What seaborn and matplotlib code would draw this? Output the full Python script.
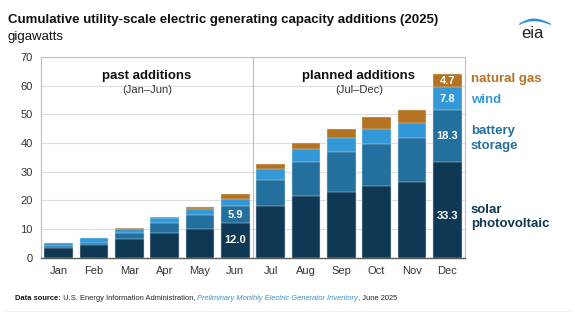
import numpy as np
import pandas as pd
import matplotlib
matplotlib.use("Agg")
import matplotlib.pyplot as plt
from matplotlib import font_manager
import seaborn as sns

months = ["Jan", "Feb", "Mar", "Apr", "May", "Jun", "Jul", "Aug", "Sep", "Oct", "Nov", "Dec"]
solar = [3.2, 4.4, 6.5, 8.7, 9.9, 12.0, 18.0, 21.3, 22.8, 24.8, 26.2, 33.3]
battery = [0.7, 0.7, 1.9, 3.3, 4.8, 5.9, 9.2, 12.1, 13.9, 14.7, 15.5, 18.3]
wind = [1.0, 1.6, 1.6, 1.7, 2.1, 2.6, 3.8, 4.4, 5.0, 5.3, 5.4, 7.8]
gas = [0.1, 0.2, 0.2, 0.4, 1.0, 1.7, 1.8, 2.1, 3.1, 4.4, 4.3, 4.7]

series_names = ["solar", "battery", "wind", "gas"]
colors = {"solar": "#0e3853", "battery": "#23709f", "wind": "#3398d8", "gas": "#b57220"}

df = pd.DataFrame({"month": months, "solar": solar, "battery": battery, "wind": wind, "gas": gas})
cum = df[series_names].cumsum(axis=1)

sns.set_style("white")
plt.rcParams["font.family"] = ["Liberation Sans", "DejaVu Sans"]

installed = {f.name for f in font_manager.fontManager.ttflist}
narrow = "Liberation Sans Narrow" in installed
foot_family = ["Liberation Sans Narrow", "DejaVu Sans"] if narrow else ["Liberation Sans", "DejaVu Sans"]
foot_size = 6.6 if narrow else 5.4

W, H = 575, 322
fig = plt.figure(figsize=(W / 100, H / 100), dpi=100)
ax = fig.add_axes([41 / W, (H - 257.5) / H, 424 / W, 200.5 / H])

# draw from top layer down
for name in reversed(series_names):
    sns.barplot(x=df["month"], y=cum[name], ax=ax, color=colors[name], width=0.82,
                saturation=1, edgecolor="#e8eef3", linewidth=0.3, zorder=3)

ax.set_xlim(-0.5, 11.5)
ax.set_ylim(0, 70)
ax.set_yticks(range(0, 71, 10))
ax.set_xlabel("")
ax.set_ylabel("")
ax.grid(axis="y", color="#dcdcdc", lw=0.8, zorder=0)
ax.set_axisbelow(True)
for s in ["left", "top", "right"]:
    ax.spines[s].set_visible(True)
    ax.spines[s].set_color("#bdbdbd")
    ax.spines[s].set_linewidth(0.8)
ax.spines["bottom"].set_visible(True)
ax.spines["bottom"].set_color("#595959")
ax.spines["bottom"].set_linewidth(1.0)
ax.tick_params(length=0, labelsize=8, colors="#333333")
ax.tick_params(axis="x", pad=6)
ax.tick_params(axis="y", pad=6)
ax.axvline(5.5, color="#bdbdbd", lw=0.8, zorder=1)

# section labels
ax.text(2.5, 63.2, "past additions", ha="center", va="center", fontsize=9.5, fontweight="bold", color="#111111")
ax.text(2.5, 58.4, "(Jan\u2013Jun)", ha="center", va="center", fontsize=8, color="#333333")
ax.text(8.5, 63.2, "planned additions", ha="center", va="center", fontsize=9.5, fontweight="bold", color="#111111")
ax.text(8.5, 58.4, "(Jul\u2013Dec)", ha="center", va="center", fontsize=8, color="#333333")

# value labels in Jun and Dec bars
offsets = {(11, "solar"): -2.0}
for i in [5, 11]:
    bottom = 0
    for name in series_names:
        v = df.loc[i, name]
        if i == 11 or name in ("solar", "battery"):
            ax.text(i, bottom + v / 2 + offsets.get((i, name), 0), f"{v:.1f}", ha="center", va="center",
                    fontsize=8, fontweight="bold", color="white", zorder=5)
        bottom += v

# legend labels on right
leg = [("natural gas", 79, "gas"), ("wind", 100, "wind"), ("battery\nstorage", 138.5, "battery"),
       ("solar\nphotovoltaic", 217, "solar")]
for txt, ypx, key in leg:
    fig.text(471 / W, 1 - ypx / H, txt, ha="left", va="center", fontsize=9.5, fontweight="bold",
             color=colors[key], linespacing=1.25)

# title
fig.text(8 / W, 1 - 20 / H, "Cumulative utility-scale electric generating capacity additions (2025)",
         fontsize=9.5, fontweight="bold", color="#111111", va="center")
fig.text(8 / W, 1 - 37 / H, "gigawatts", fontsize=9.5, color="#111111", va="center")

# footer (chained text pieces)
fig.canvas.draw()
renderer = fig.canvas.get_renderer()
pieces = [("Data source:", dict(fontweight="bold", color="#111111")),
          (" U.S. Energy Information Administration, ", dict(color="#222222")),
          ("Preliminary Monthly Electric Generator Inventory", dict(style="italic", color="#3b8fc7")),
          (", June 2025", dict(color="#222222"))]
xpx = 15
for txt, kw in pieces:
    t = fig.text(xpx / W, 1 - 298 / H, txt, fontsize=foot_size, family=foot_family,
                 va="center", ha="left", **kw)
    bb = t.get_window_extent(renderer=renderer)
    xpx += bb.width
fig.add_artist(plt.Line2D([5 / W, 570 / W], [1 - 311 / H, 1 - 311 / H], color="#f0f0f0", lw=0.8))

# eia logo
fig.text(532 / W, 1 - 33 / H, "eia", fontsize=12, color="#222222", ha="center", va="center")
lax = fig.add_axes([517 / W, 1 - 28 / H, 34 / W, 12 / H])
lax.axis("off")
lax.set_xlim(0, 1)
lax.set_ylim(0, 1)
t = np.linspace(0, 1, 60)
arc = np.sin(np.pi * (0.1 + 0.75 * t))
lax.fill_between(0.05 + 0.93 * t, 0.1 + 0.8 * arc * (1 - 0.3 * t) + 0.05,
                 0.1 + 0.6 * arc * (1 - 0.3 * t), color="#2f8fd6", lw=0)

fig.savefig("out.png", dpi=100, facecolor="white")
